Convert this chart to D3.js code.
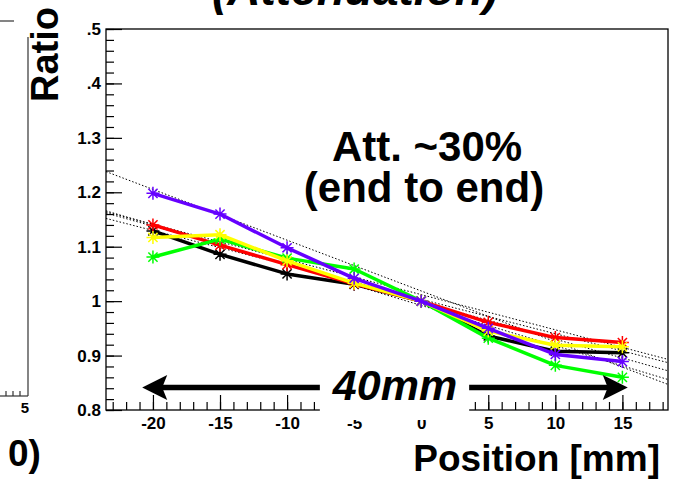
<!DOCTYPE html>
<html lang="en">
<head>
<meta charset="UTF-8" />
<title>Attenuation ratio vs position</title>
<script src="https://d3js.org/d3.v7.min.js"></script>
<style>
    html, body { margin: 0; padding: 0; background: #fff; }
    svg { display: block; font-family: "Liberation Sans", Arial, sans-serif; }
    .tick text { font-weight: bold; font-size: 17px; }
</style>
</head>
<body>
<svg id="chart" width="673" height="482"></svg>
<script>
    // --- Data ---
    const positions = [-20, -15, -10, -5, 0, 5, 10, 15];

    const blackRatio  = [1.129, 1.086, 1.050, 1.031, 1.000, 0.936, 0.908, 0.905];
    const redRatio    = [1.140, 1.103, 1.067, 1.032, 1.000, 0.961, 0.933, 0.924];
    const greenRatio  = [1.081, 1.114, 1.079, 1.059, 1.000, 0.932, 0.882, 0.860];
    const yellowRatio = [1.117, 1.122, 1.074, 1.033, 1.000, 0.945, 0.919, 0.916];
    const purpleRatio = [1.198, 1.160, 1.098, 1.042, 1.000, 0.950, 0.902, 0.889];

    // linear fits (dotted), value at left and right frame edge
    const fitEnds = [-23.5, 18.4];
    const fitLeft  = [1.152, 1.164, 1.166, 1.162, 1.238];
    const fitRight = [0.887, 0.893, 0.856, 0.872, 0.847];

    const xTicks = [-20, -15, -10, -5, 0, 5, 10, 15];
    const yTicks = [0.8, 0.9, 1.0, 1.1, 1.2, 1.3, 1.4, 1.5];
    const yTickLabels = ["0.8", "0.9", "1", "1.1", "1.2", "1.3", ".4", ".5"];

    const series = [
        { color: "#000000", values: blackRatio },
        { color: "#ff0000", values: redRatio },
        { color: "#00ff00", values: greenRatio },
        { color: "#ffff00", values: yellowRatio },
        { color: "#6600ff", values: purpleRatio }
    ];

    // --- Layout ---
    const svg = d3.select("#chart");
    const frameL = 106, frameR = 668, frameT = 29, frameB = 410;

    const x = d3.scaleLinear().domain([-23.5, 18.4]).range([frameL, frameR]);
    const y = d3.scaleLinear().domain([0.8, 1.5]).range([frameB, frameT]);

    // remnants of the neighbouring panel on the left
    const rem = svg.append("g").attr("stroke", "#333").attr("stroke-width", 1.2);
    rem.append("line").attr("x1", 0).attr("x2", 14).attr("y1", 21).attr("y2", 21);
    rem.append("line").attr("x1", 28).attr("x2", 28).attr("y1", 37).attr("y2", 396);
    rem.append("line").attr("x1", 0).attr("x2", 28).attr("y1", 396).attr("y2", 396);
    [6, 13, 20].forEach(px => {
        rem.append("line").attr("x1", px).attr("x2", px).attr("y1", 396).attr("y2", 391);
    });
    svg.append("text").attr("x", 25).attr("y", 413)
        .attr("text-anchor", "middle").attr("font-size", 15).attr("font-weight", "bold")
        .text("5");
    svg.append("text").attr("x", 8).attr("y", 466)
        .attr("font-size", 37).attr("font-weight", "bold")
        .text("0)");

    // --- Axes (ticks inside the frame, ROOT style) ---
    const xMinor = d3.range(-23, 19, 1);
    const yMinor = d3.range(0.8, 1.5001, 0.02);

    svg.append("g")
        .attr("transform", `translate(0,${frameB})`)
        .call(d3.axisBottom(x).tickValues(xMinor).tickSize(-8).tickFormat(""))
        .call(g => g.select(".domain").remove());
    svg.append("g")
        .attr("transform", `translate(0,${frameB})`)
        .call(d3.axisBottom(x).tickValues(xTicks).tickSize(-15).tickPadding(7).tickFormat(d => String(d)))
        .call(g => g.select(".domain").remove());

    svg.append("g")
        .attr("transform", `translate(${frameL},0)`)
        .call(d3.axisLeft(y).tickValues(yMinor).tickSize(-8).tickFormat(""))
        .call(g => g.select(".domain").remove());
    svg.append("g")
        .attr("transform", `translate(${frameL},0)`)
        .call(d3.axisLeft(y).tickValues(yTicks).tickSize(-16).tickPadding(5)
            .tickFormat((d, i) => yTickLabels[i]))
        .call(g => g.select(".domain").remove());

    svg.selectAll(".tick line").attr("stroke", "#000").attr("stroke-width", 1.2);

    svg.append("rect")
        .attr("x", frameL).attr("y", frameT)
        .attr("width", frameR - frameL).attr("height", frameB - frameT)
        .attr("fill", "none").attr("stroke", "#000").attr("stroke-width", 1.3);

    // --- Fit lines ---
    fitLeft.forEach((v, i) => {
        svg.append("line")
            .attr("x1", x(fitEnds[0])).attr("y1", y(v))
            .attr("x2", x(fitEnds[1])).attr("y2", y(fitRight[i]))
            .attr("stroke", "#000").attr("stroke-width", 1)
            .attr("stroke-dasharray", "1.5,2");
    });

    // --- Series ---
    const line = d3.line().x((d, i) => x(positions[i])).y(d => y(d));

    series.forEach(s => {
        const g = svg.append("g");
        g.append("path")
            .datum(s.values)
            .attr("d", line)
            .attr("fill", "none")
            .attr("stroke", s.color)
            .attr("stroke-width", 3.5)
            .attr("stroke-linejoin", "round");

        const r = 6.5, rd = 4.6;
        const star = `M${-r},0L${r},0M0,${-r}L0,${r}M${-rd},${-rd}L${rd},${rd}M${-rd},${rd}L${rd},${-rd}`;
        g.selectAll("path.marker")
            .data(s.values)
            .join("path")
            .attr("class", "marker")
            .attr("transform", (d, i) => `translate(${x(positions[i])},${y(d)})`)
            .attr("d", star)
            .attr("stroke", s.color)
            .attr("stroke-width", 1.5)
            .attr("fill", "none");
    });

    // --- Annotations ---
    svg.append("text")
        .attr("x", 355).attr("y", 5)
        .attr("text-anchor", "middle")
        .attr("font-size", 46).attr("font-weight", "bold").attr("font-style", "italic")
        .text("(Attenuation)");

    svg.append("text")
        .attr("transform", "translate(58,102) rotate(-90)")
        .attr("font-size", 38).attr("font-weight", "bold")
        .text("Ratio");

    const note = svg.append("g").attr("font-size", 42).attr("font-weight", "bold")
        .attr("text-anchor", "middle");
    note.append("text").attr("x", 427).attr("y", 161).text("Att. ~30%");
    note.append("text").attr("x", 424).attr("y", 202).text("(end to end)");

    // 40mm arrow
    const arrowY = y(0.8415);
    const xa = x(-20.8), xb = x(15.4);
    svg.append("line")
        .attr("x1", xa + 18).attr("x2", xb - 18)
        .attr("y1", arrowY).attr("y2", arrowY)
        .attr("stroke", "#000").attr("stroke-width", 5.5);
    svg.append("path")
        .attr("d", `M${xa},${arrowY}L${xa + 25},${arrowY - 12.5}L${xa + 20},${arrowY}L${xa + 25},${arrowY + 12.5}Z`)
        .attr("fill", "#000");
    svg.append("path")
        .attr("d", `M${xb},${arrowY}L${xb - 25},${arrowY - 12.5}L${xb - 20},${arrowY}L${xb - 25},${arrowY + 12.5}Z`)
        .attr("fill", "#000");

    const boxG = svg.append("g");
    const label = svg.append("text")
        .attr("x", 395).attr("y", 400)
        .attr("text-anchor", "middle")
        .attr("font-size", 43).attr("font-weight", "bold").attr("font-style", "italic")
        .text("40mm");
    const bb = label.node().getBBox();
    boxG.append("rect")
        .attr("x", bb.x - 12).attr("y", bb.y - 1)
        .attr("width", bb.width + 24).attr("height", bb.height + 12)
        .attr("fill", "#fff");

    svg.append("text")
        .attr("x", 660).attr("y", 471)
        .attr("text-anchor", "end")
        .attr("font-size", 37).attr("font-weight", "bold")
        .text("Position [mm]");
</script>
</body>
</html>
